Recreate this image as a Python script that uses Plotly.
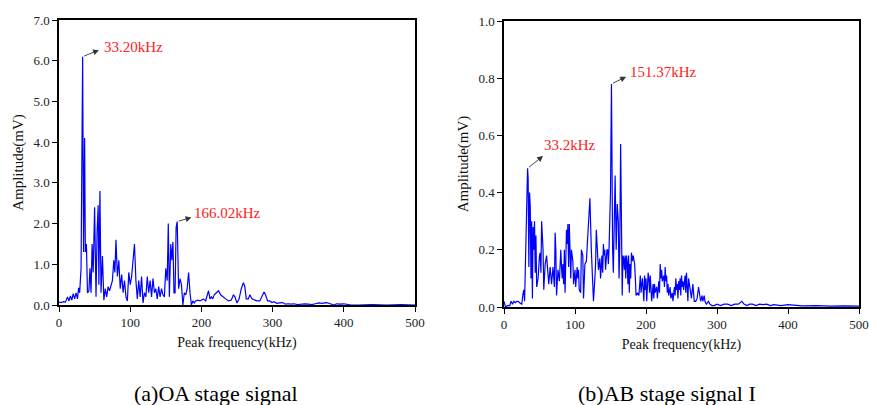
import plotly.graph_objects as go

# ---------------- data: (a) OA stage signal ----------------
freq_a = [0, 3, 6, 9, 12, 14, 16, 18, 20, 22, 24, 26, 27.5, 29, 31, 33.2, 34.5, 36, 37, 38.5,
          40, 42, 43.5, 45, 46.5, 48, 50, 52, 53.5, 55, 56, 57.5, 59, 61, 63, 65, 67, 69, 71, 73,
          75, 77, 78.5, 80, 82, 84, 86, 88, 90, 92, 94, 96, 98, 100, 102, 104, 106, 108, 110, 112,
          114, 116, 118, 120, 122, 124, 126, 128, 130, 132, 134, 136, 138, 140, 142, 144, 146, 148,
          150, 152, 153.5, 155, 157, 158.5, 160, 161.5, 163, 164.5, 166.02, 168, 170, 172, 174, 176,
          178, 180, 182, 184, 186, 188, 190, 192, 195, 198, 200, 203, 206, 208, 210, 212, 214, 216,
          218, 221, 224, 227, 230, 234, 238, 242, 245, 247, 250, 253, 256, 259, 261, 263, 266, 268,
          271, 274, 278, 282, 285, 288, 290, 293, 296, 299, 302, 306, 310, 314, 318, 322, 326, 330,
          335, 340, 345, 350, 355, 360, 365, 370, 375, 378, 382, 386, 390, 395, 400, 405, 410, 420,
          440, 460, 480, 500]
amp_a = [0.07, 0.06, 0.08, 0.07, 0.2, 0.1, 0.22, 0.12, 0.28, 0.15, 0.3, 0.15, 0.42, 0.3, 0.9, 6.1, 1.3, 4.1, 1.3, 1.5,
         0.3, 0.35, 0.9, 0.3, 1.5, 0.8, 2.4, 0.2, 1.8, 2.45, 0.5, 2.8, 0.3, 1.2, 0.12, 0.4, 0.2, 0.45, 0.35, 0.5,
         0.6, 1.1, 0.8, 1.6, 0.7, 1.1, 0.4, 0.75, 0.3, 0.6, 0.2, 0.1, 0.8, 0.5, 0.7, 1.1, 1.5, 0.6, 0.15, 0.6,
         0.2, 0.7, 0.05, 0.3, 0.2, 0.7, 0.3, 0.6, 0.2, 0.65, 0.3, 0.4, 0.15, 0.45, 0.2, 0.4, 0.25, 0.2,
         0.9, 0.6, 2.0, 0.2, 1.5, 1.1, 1.55, 0.3, 0.3, 1.9, 2.05, 0.4, 0.65, 0.5, 0.0, 0.3,
         0.25, 0.4, 0.8, 0.3, 0.0, 0.1, 0.05, 0.1, 0.12, 0.1, 0.12, 0.15, 0.1, 0.2, 0.35, 0.15, 0.2, 0.15,
         0.25, 0.3, 0.35, 0.25, 0.2, 0.15, 0.1, 0.12, 0.25, 0.2, 0.05, 0.15, 0.4, 0.55, 0.45, 0.15, 0.15, 0.25,
         0.15, 0.12, 0.1, 0.1, 0.2, 0.32, 0.25, 0.1, 0.1, 0.06, 0.08, 0.04, 0.05, 0.06, 0.02, 0.03, 0.02, 0.03,
         0.01, 0.02, 0.03, 0.02, 0.01, 0.03, 0.05, 0.04, 0.06, 0.05, 0.02, 0.0, 0.03, 0.02, 0.03, 0.02, 0.0, 0.0,
         0.01, 0.0, 0.01, 0.0]

# ---------------- data: (b) AB stage signal I ----------------
freq_b = [0, 2, 5, 8, 10, 12, 14, 16, 18, 20, 22, 25, 27, 28, 29, 31, 33.2, 34, 35, 36, 37, 38, 39,
          40, 41, 42, 43, 44, 45, 46, 48, 50, 51, 52, 53, 54, 55, 56, 58, 60, 62, 63, 65, 67, 69, 71,
          72, 73, 74, 76, 78, 80, 81, 82, 83, 84, 85, 86, 88, 89, 90, 91, 92, 93, 94, 95, 97, 98, 100,
          101, 103, 104, 105, 106, 108, 109, 111, 112, 114, 116, 118, 119, 121, 123, 124, 126, 128, 129,
          130, 132, 133, 135, 136, 138, 139, 140, 141, 142, 143, 145, 146, 147, 148, 150, 151.37, 153,
          154, 156.5, 158, 159.5, 161, 162, 163, 164.3, 165.5, 166.5, 167.5, 168.5, 169.5, 170.5, 171.5,
          172.5, 173.5, 174.5, 175.5, 176.5, 177.5, 178.5, 179.5, 181, 182, 184, 185, 186, 188, 190, 192,
          193, 194, 195, 197, 198, 199, 200, 201, 203, 204, 205, 206, 207, 208, 210, 211, 212, 213, 215,
          216, 218, 219, 220, 221, 222, 223, 225, 226, 227, 228, 229, 230, 231, 232, 234, 235, 237, 238,
          240, 241, 242, 243, 244, 245, 246, 247, 248, 249, 250, 251, 252, 253, 255, 256, 257, 258, 259,
          260, 262, 264, 266, 268, 270, 272, 274, 276, 277, 279, 280, 282, 283, 285, 288, 290, 293, 296,
          300, 305, 310, 315, 320, 325, 330, 335, 338, 342, 346, 350, 355, 360, 365, 370, 375, 380, 390,
          400, 410, 420, 440, 460, 480, 500]
amp_b = [0.02, 0.0, 0.005, 0.005, 0.02, 0.01, 0.02, 0.015, 0.02, 0.02, 0.015, 0.01, 0.05, 0.06, 0.02, 0.3, 0.485, 0.45, 0.14, 0.4, 0.35, 0.1, 0.3,
         0.03, 0.28, 0.2, 0.3, 0.12, 0.25, 0.07, 0.1, 0.18, 0.19, 0.12, 0.3, 0.25, 0.2, 0.06, 0.15, 0.18, 0.1, 0.08, 0.14, 0.08, 0.14, 0.07,
         0.26, 0.2, 0.04, 0.13, 0.09, 0.2, 0.14, 0.1, 0.15, 0.08, 0.2, 0.05, 0.27, 0.22, 0.29, 0.14, 0.29, 0.12, 0.1, 0.2, 0.16, 0.08, 0.13,
         0.07, 0.14, 0.1, 0.13, 0.06, 0.05, 0.2, 0.18, 0.03, 0.15, 0.16, 0.27, 0.3, 0.38, 0.2, 0.14, 0.02, 0.1, 0.15,
         0.27, 0.2, 0.13, 0.17, 0.1, 0.18, 0.12, 0.22, 0.18, 0.2, 0.13, 0.2, 0.2, 0.15, 0.21, 0.4, 0.78, 0.2,
         0.12, 0.46, 0.2, 0.36, 0.3, 0.1, 0.2, 0.57, 0.05, 0.04, 0.18, 0.17, 0.13, 0.18, 0.1,
         0.18, 0.16, 0.08, 0.18, 0.05, 0.15, 0.1, 0.19, 0.16, 0.18, 0.15, 0.1, 0.04, 0.05, 0.04, 0.11,
         0.05, 0.08, 0.1, 0.02, 0.11, 0.06, 0.1, 0.02, 0.12, 0.1, 0.05, 0.11, 0.03, 0.02, 0.08, 0.03, 0.08, 0.05, 0.07,
         0.03, 0.09, 0.05, 0.15, 0.1, 0.13, 0.09, 0.11, 0.07, 0.14, 0.09, 0.11, 0.05, 0.08, 0.04, 0.07, 0.03, 0.05, 0.02,
         0.07, 0.04, 0.1, 0.06, 0.08, 0.03, 0.09, 0.06, 0.1, 0.04, 0.11, 0.07, 0.09, 0.06, 0.11, 0.05, 0.12, 0.07, 0.02,
         0.1, 0.07, 0.03, 0.08, 0.02, 0.02, 0.03, 0.07, 0.04, 0.02, 0.04, 0.02, 0.04, 0.02, 0.01, 0.02, 0.01, 0.005, 0.005,
         0.01, 0.005, 0.01, 0.01, 0.005, 0.01, 0.01, 0.02, 0.01, 0.005, 0.01, 0.01, 0.005, 0.01, 0.008, 0.01, 0.005, 0.008, 0.005,
         0.008, 0.005, 0.004, 0.005, 0.003, 0.004, 0.003]

x_ticks = [0, 100, 200, 300, 400, 500]
y_ticks_a = [0, 1, 2, 3, 4, 5, 6, 7]
y_ticks_b = [0, 0.2, 0.4, 0.6, 0.8, 1.0]

peaks_a = [("33.20kHz", 33.2, 6.1, 56, 6.26, 60, 6.34), ("166.02kHz", 166.02, 2.05, 186, 2.15, 187, 2.27)]
peaks_b = [("33.2kHz", 33.2, 0.485, 55, 0.528, 53, 0.566), ("151.37kHz", 151.37, 0.78, 172, 0.805, 174, 0.82)]

captions = ["(a)OA stage signal", "(b)AB stage signal I"]
x_title = "Peak frequency(kHz)"
y_title = "Amplitude(mV)"

FONT = "Liberation Serif"

fig = go.Figure()
fig.add_trace(go.Scatter(x=freq_a, y=amp_a, mode="lines", line=dict(color="#0000ff", width=1.2),
                         xaxis="x", yaxis="y", showlegend=False))
fig.add_trace(go.Scatter(x=freq_b, y=amp_b, mode="lines", line=dict(color="#0000ff", width=1.2),
                         xaxis="x2", yaxis="y2", showlegend=False))

axis_common = dict(showline=True, linecolor="black", linewidth=1.5, mirror=True, ticks="outside",
                   ticklen=5, tickwidth=1.2, tickcolor="black", showgrid=False, zeroline=False,
                   automargin=False,
                   tickfont=dict(family=FONT, size=13, color="#222"))

fig.update_layout(
    width=869, height=405, margin=dict(l=0, r=0, t=0, b=0),
    paper_bgcolor="white", plot_bgcolor="white",
    font=dict(family=FONT),
    xaxis=dict(domain=[59/869, 415/869], range=[0, 500], tickvals=x_ticks, anchor="y",
               title=dict(text=x_title, font=dict(family=FONT, size=14, color="#111"), standoff=8),
               **axis_common),
    yaxis=dict(domain=[(405-305)/405, (405-20)/405], range=[0, 7], tickvals=y_ticks_a, tickformat=".1f",
               anchor="x", title=dict(text=y_title, font=dict(family=FONT, size=15, color="#111"), standoff=6),
               **axis_common),
    xaxis2=dict(domain=[504/869, 859/869], range=[0, 500], tickvals=x_ticks, anchor="y2",
                title=dict(text=x_title, font=dict(family=FONT, size=14, color="#111"), standoff=8),
                **axis_common),
    yaxis2=dict(domain=[(405-307)/405, (405-21)/405], range=[0, 1.0], tickvals=y_ticks_b, tickformat=".1f",
                anchor="x2", title=dict(text=y_title, font=dict(family=FONT, size=15, color="#111"), standoff=6),
                **axis_common),
)

anns = []
for peaks, xr, yr in [(peaks_a, "x", "y"), (peaks_b, "x2", "y2")]:
    for label, px, py, hx, hy, tx, ty in peaks:
        anns.append(dict(x=hx, y=hy, xref=xr, yref=yr, ax=px, ay=py, axref=xr, ayref=yr,
                         text="", showarrow=True, arrowhead=2, arrowsize=1.3, arrowwidth=0.9,
                         arrowcolor="#333"))
        anns.append(dict(x=tx, y=ty, xref=xr, yref=yr, text=label, showarrow=False, xanchor="left",
                         yanchor="middle", font=dict(family=FONT, size=15, color="#ff2020")))
anns.append(dict(x=216/869, y=(405-393)/405, xref="paper", yref="paper", text=captions[0], showarrow=False,
                 xanchor="center", yanchor="middle", font=dict(family=FONT, size=22, color="black")))
anns.append(dict(x=667/869, y=(405-393)/405, xref="paper", yref="paper", text=captions[1], showarrow=False,
                 xanchor="center", yanchor="middle", font=dict(family=FONT, size=22, color="black")))
fig.update_layout(annotations=anns)

fig.write_html("out.html")
